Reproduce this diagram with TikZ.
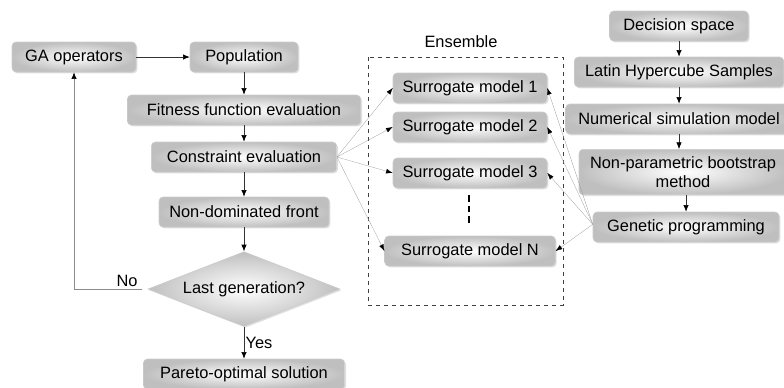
\documentclass[tikz,border=0pt]{standalone}
\usepackage{fontspec}
\setmainfont{Liberation Sans}
\usetikzlibrary{shapes.geometric,shadows,arrows.meta}

\tikzset{
	box/.style={rectangle,rounded corners=3pt,draw=gray!40,inner color=white,outer color=gray!50,
		drop shadow={opacity=0.25,shadow xshift=1pt,shadow yshift=-1pt},
		minimum height=22.5pt,inner sep=2pt,font=\fontsize{12.3}{14}\selectfont,text=black},
	decide/.style={diamond,draw=gray!40,inner color=white,outer color=gray!50,
		drop shadow={opacity=0.25,shadow xshift=1pt,shadow yshift=-1pt},
		aspect=2.56,inner sep=1pt,minimum width=144pt,minimum height=56pt,
		font=\fontsize{12.3}{14}\selectfont,text=black},
	flow/.style={-{Latex[length=5pt,width=4pt,color=black]},black!80,line width=0.5pt},
	fan/.style={-{Latex[length=5pt,width=3.5pt,color=black]},gray!80,very thin},
	tag/.style={font=\fontsize{12.3}{14}\selectfont,text=black}
}

\begin{document}
\begin{tikzpicture}[x=0.75pt,y=-0.75pt]
	\useasboundingbox (0,0) rectangle (784,387);
	%GA LOOP
	\node[box,minimum width=93pt] (ga) at (74,57) {GA operators};
	\node[box,minimum width=81pt] (pop) at (244,57) {Population};
	\node[box,minimum width=175pt] (fit) at (244,110) {Fitness function evaluation};
	\node[box,minimum width=139pt] (ce) at (244,157) {Constraint evaluation};
	\node[box,minimum width=127.5pt] (ndf) at (244,212) {Non-dominated front};
	\node[decide] (lg) at (244,289) {Last generation?};
	\node[box,minimum width=151pt] (pos) at (244,374) {Pareto-optimal solution};
	%
	\draw[flow] (ga)--(pop);
	\draw[flow] (pop)--(fit);
	\draw[flow] (fit)--(ce);
	\draw[flow] (ce)--(ndf);
	\draw[flow] (ndf)--(lg);
	\draw[flow] (lg)--(pos) node[tag,right,pos=0.5,inner sep=1pt] {Yes};
	\draw[flow,gray!90] ([xshift=-4pt]lg.west) -| (ga.south);
	\node[tag] (no) at (127,281) {No};

	%ENSEMBLE
	\draw[dashed,black!75] (368,57) rectangle (563,305);
	\node[tag] (ens) at (461,42) {Ensemble};
	\node[box,minimum width=115.5pt] (sm1) at (470,88) {Surrogate model 1};
	\node[box,minimum width=115.5pt] (sm2) at (470,127) {Surrogate model 2};
	\node[box,minimum width=115.5pt] (sm3) at (470,173) {Surrogate model 3};
	\node[box,minimum width=128pt] (smn) at (470,251) {Surrogate model N};
	\draw[line width=2pt,dash pattern=on 5pt off 3pt] (469,195)--(469,225);

	%TRAINING
	\node[box,minimum width=104pt] (dec) at (679,26) {Decision space};
	\node[box,minimum width=157pt] (lhs) at (679,72) {Latin Hypercube Samples};
	\node[box,minimum width=170pt] (nsm) at (679,119) {Numerical simulation model};
	\node[box,minimum width=156pt,minimum height=34pt,align=center] (npb) at (683,172) {Non-parametric bootstrap\\method};
	\node[box,minimum width=139.5pt] (gp) at (686,227) {Genetic programming};
	%
	\draw[flow] (dec)--(lhs);
	\draw[flow] (lhs)--(nsm);
	\draw[flow] (nsm.south)--(nsm.south |- npb.north);
	\draw[flow] (gp.north |- npb.south)--(gp.north);

	%FANS
	\foreach \s in {sm1,sm2,sm3,smn}{
		\draw[fan] (ce.east)--(\s.west);
		\draw[fan] ([yshift=2pt]gp.west)--(\s.east);
	}
\end{tikzpicture}
\end{document}
